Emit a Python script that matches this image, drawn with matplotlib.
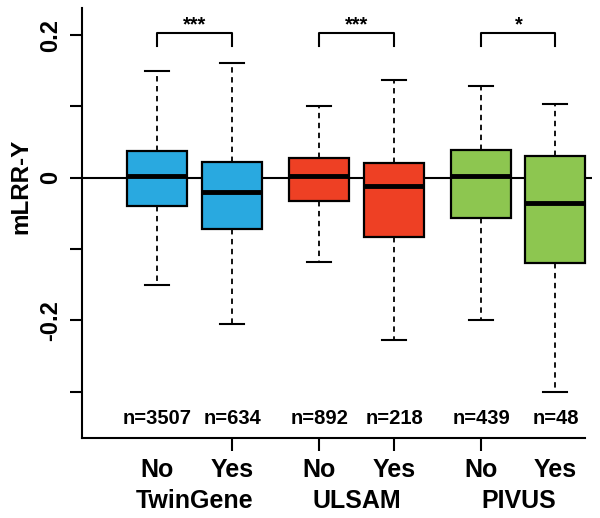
import matplotlib.pyplot as plt

plt.rcParams["font.family"] = ["Liberation Sans", "DejaVu Sans"]

# box statistics
groups = ["TwinGene", "ULSAM", "PIVUS"]
labels = ["No", "Yes", "No", "Yes", "No", "Yes"]
counts = ["n=3507", "n=634", "n=892", "n=218", "n=439", "n=48"]
q1 = [-0.039, -0.072, -0.032, -0.083, -0.057, -0.119]
med = [0.003, -0.020, 0.003, -0.011, 0.003, -0.035]
q3 = [0.038, 0.022, 0.027, 0.020, 0.039, 0.031]
whislo = [-0.151, -0.205, -0.118, -0.227, -0.200, -0.300]
whishi = [0.149, 0.161, 0.101, 0.137, 0.128, 0.103]
stars = ["***", "***", "*"]
colors = ["#29A9E0", "#29A9E0", "#EE4024", "#EE4024", "#8DC650", "#8DC650"]

pos = [1, 2, 3.16, 4.16, 5.32, 6.31]

stats = []
for i in range(len(labels)):
    stats.append({"q1": q1[i], "med": med[i], "q3": q3[i],
                  "whislo": whislo[i], "whishi": whishi[i], "fliers": []})

fig = plt.figure(figsize=(6, 5.18), dpi=100)
ax = fig.add_axes([0.1367, 0.1544, 0.8503, 0.8302])

ax.axhline(0, color="black", lw=1.5, zorder=0)

bp = ax.bxp(stats, positions=pos, widths=0.8, patch_artist=True,
            showfliers=False, capwidths=0.32,
            boxprops=dict(lw=1.6, edgecolor="black"),
            medianprops=dict(color="black", lw=3.5),
            whiskerprops=dict(color="black", lw=1.3, linestyle=(0, (3, 2.5))),
            capprops=dict(color="black", lw=1.5))
for patch, c in zip(bp["boxes"], colors):
    patch.set_facecolor(c)

ax.set_xlim(0.0, 6.8)
ax.set_ylim(-0.365, 0.238)

# significance brackets
for g in range(3):
    a, b = pos[2 * g], pos[2 * g + 1]
    ax.plot([a, a, b, b], [0.185, 0.203, 0.203, 0.185], color="black", lw=1.5)
    ax.text((a + b) / 2, 0.207, stars[g], ha="center", va="baseline",
            fontsize=14.5, fontweight="bold")

for p, n in zip(pos, counts):
    ax.text(p, -0.337, n, ha="center", va="center", fontsize=14.5,
            fontweight="bold")

ax.spines["top"].set_visible(False)
ax.spines["right"].set_visible(False)
ax.spines["left"].set_linewidth(1.5)
ax.spines["bottom"].set_linewidth(1.5)
ax.spines["bottom"].set_bounds(0.0, pos[-1] + 0.4)

ax.set_yticks([-0.3, -0.2, -0.1, 0, 0.1, 0.2])
ax.set_yticklabels(["", "-0.2", "", "0", "", "0.2"], rotation=90,
                   va="center", fontsize=17, fontweight="bold")
ax.tick_params(axis="y", length=9, width=1.5, pad=5)

ax.set_xticks(pos[1:5])
ax.set_xticklabels([])
ax.tick_params(axis="x", length=9, width=1.5)

for p, l in zip(pos, labels):
    ax.text(p, -0.41, l, ha="center", va="center", fontsize=18,
            fontweight="bold", clip_on=False)
for g in range(3):
    ax.text((pos[2 * g] + pos[2 * g + 1]) / 2, -0.453, groups[g],
            ha="center", va="center", fontsize=18, fontweight="bold",
            clip_on=False)

ax.set_ylabel("mLRR-Y", fontsize=17.5, fontweight="bold")
ax.yaxis.set_label_coords(-0.098, 0.586)

fig.savefig("out.png", dpi=100)
